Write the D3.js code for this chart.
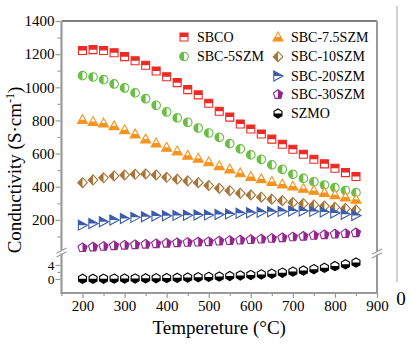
<!DOCTYPE html>
<html><head><meta charset="utf-8">
<script src="https://cdn.jsdelivr.net/npm/d3@7/dist/d3.min.js"></script>
<style>
html,body{margin:0;padding:0;background:#fff;}
svg text{font-family:"Liberation Serif","DejaVu Serif",serif !important;fill:#000;}
</style></head>
<body><svg id="c" width="410" height="350"></svg>
<script>
const temps = [200,225,250,275,300,325,350,375,400,425,450,475,500,525,550,575,600,625,650,675,700,725,750,775,800,825,850];
const sbco   = [1222,1227,1222,1208,1185,1160,1133,1098,1064,1028,986,954,904,855,820,778,748,718,687,656,626,596,566,538,511,485,462];
const sbc5   = [1070,1062,1046,1020,996,966,931,891,851,815,789,754,724,698,660,628,592,565,532,505,475,450,430,410,394,377,364];
const sbc75  = [803,792,782,766,742,716,686,662,636,614,588,570,548,525,505,482,460,446,430,414,402,388,376,363,350,336,322];
const sbc10  = [424,441,454,465,471,475,477,471,457,445,435,424,407,390,376,360,350,337,325,316,304,298,290,283,276,269,260];
const sbc20  = [168,178,188,199,208,215,219,223,225,227,228,229,230,232,236,240,243,246,249,251,253,253,251,247,241,234,226];
const sbc30  = [32,36,40,44,47,50,53,56,59,62,64,66,68,72,75,78,81,84,88,92,97,101,106,110,114,117,122];
const szmo   = [0.05,0.06,0.08,0.1,0.12,0.15,0.18,0.22,0.27,0.33,0.4,0.5,0.6,0.7,0.85,1.0,1.15,1.3,1.5,1.8,2.1,2.4,2.8,3.2,3.7,4.2,4.7];
const seriesNames = ["SBCO","SBC-5SZM","SBC-7.5SZM","SBC-10SZM","SBC-20SZM","SBC-30SZM","SZMO"];
const xTicks = [200,300,400,500,600,700,800,900];
const xMinor = [150,250,350,450,550,650,750,850];
const yTicksUpper = [200,400,600,800,1000,1200,1400];
const yMinorUpper = [100,300,500,700,900,1100,1300];
const yTicksLower = [0,4];
const yMinorLower = [2];

const FONT = "Liberation Serif";
const svg = d3.select("#c");
const L = 61.5, R = 377, T = 21, B = 293, BRK = 252;
const x = d3.scaleLinear().domain([150,900]).range([L,R]);
const yU = d3.scaleLinear().domain([6,1400]).range([BRK,T]);
const yL = d3.scaleLinear().domain([-4,7.7]).range([B,BRK]);
const axisCol = "#9a9a9a";

const defs = svg.append("defs");
const halves = {top:[-10,-10,20,10], bottom:[-10,0,20,10], left:[-10,-10,10,20], right:[0,-10,10,20], tri:[-10,-0.3,20,10]};
Object.entries(halves).forEach(([k,r])=>{
  defs.append("clipPath").attr("id","h-"+k).attr("clipPathUnits","userSpaceOnUse")
    .append("rect").attr("x",r[0]).attr("y",r[1]).attr("width",r[2]).attr("height",r[3]);
});

function poly(n, r, rot){
  const pts=[];
  for(let i=0;i<n;i++){const a=rot+i*2*Math.PI/n; pts.push([r*Math.cos(a), r*Math.sin(a)]);}
  return "M"+pts.map(p=>p[0].toFixed(2)+","+p[1].toFixed(2)).join("L")+"Z";
}
const shapes = {
  square: "M-4,-4L4,-4L4,4L-4,4Z",
  circle: "M-4.3,0A4.3,4.3 0 1,0 4.3,0A4.3,4.3 0 1,0 -4.3,0Z",
  tri: "M0,-5.2L5,3.6L-5,3.6Z",
  diamond: "M0,-5L4.8,0L0,5L-4.8,0Z",
  rtri: "M-4.2,-5L5,0L-4.2,5Z",
  pent: poly(5,4.8,-Math.PI/2),
  hex: poly(6,4.6,-Math.PI/2)
};
const series = [
  {name:seriesNames[0], vals:sbco,  col:"#ee2a24", shape:"square",  half:"top",    sc:yU},
  {name:seriesNames[1], vals:sbc5,  col:"#6cbd45", shape:"circle",  half:"left",   sc:yU},
  {name:seriesNames[2], vals:sbc75, col:"#f7931e", shape:"tri",     half:"tri",    sc:yU},
  {name:seriesNames[3], vals:sbc10, col:"#a8743a", shape:"diamond", half:"left",   sc:yU},
  {name:seriesNames[4], vals:sbc20, col:"#3b5cab", shape:"rtri",    half:"top",    sc:yU},
  {name:seriesNames[5], vals:sbc30, col:"#93278f", shape:"pent",    half:"right",  sc:yU},
  {name:seriesNames[6], vals:szmo,  col:"#000000", shape:"hex",     half:"bottom", sc:yL}
];
function marker(g, s){
  g.append("path").attr("d",shapes[s.shape]).attr("fill","#fff").attr("stroke","none");
  g.append("path").attr("d",shapes[s.shape]).attr("fill",s.col).attr("clip-path","url(#h-"+s.half+")");
  g.append("path").attr("d",shapes[s.shape]).attr("fill","none").attr("stroke",s.col).attr("stroke-width",1.1);
}

svg.append("line").attr("x1",L).attr("x2",R).attr("y1",T).attr("y2",T).attr("stroke","#000").attr("stroke-width",1.2);
svg.append("line").attr("x1",R).attr("x2",R).attr("y1",T).attr("y2",B+1).attr("stroke",axisCol).attr("stroke-width",2);
svg.append("line").attr("x1",L).attr("x2",L).attr("y1",T).attr("y2",B+1).attr("stroke",axisCol).attr("stroke-width",2.2);
svg.append("line").attr("x1",L-1).attr("x2",R+1).attr("y1",B).attr("y2",B).attr("stroke",axisCol).attr("stroke-width",2);

function styleAxis(g, fs){
  g.attr("font-family",FONT);
  g.select(".domain").remove();
  g.selectAll(".tick line").attr("stroke",axisCol).attr("stroke-width",1.2);
  g.selectAll("text").attr("font-size",fs||15).attr("font-family",FONT);
}
const gxa = svg.append("g").attr("transform",`translate(0,${B})`)
  .call(d3.axisBottom(x).tickValues(xTicks).tickSize(5).tickPadding(2).tickFormat(d3.format("d")));
styleAxis(gxa);
gxa.selectAll("text").attr("dy","0.71em");
svg.append("g").attr("transform",`translate(0,${B})`)
  .call(d3.axisBottom(x).tickValues(xMinor).tickSize(3).tickFormat("")).call(styleAxis);

const gyu = svg.append("g").attr("transform",`translate(${L-1},0)`)
  .call(d3.axisLeft(yU).tickValues(yTicksUpper).tickSize(5).tickPadding(1).tickFormat(d3.format("d")));
styleAxis(gyu);
svg.append("g").attr("transform",`translate(${L-1},0)`)
  .call(d3.axisLeft(yU).tickValues(yMinorUpper).tickSize(3).tickFormat("")).call(styleAxis);
const gyl = svg.append("g").attr("transform",`translate(${L-1},0)`)
  .call(d3.axisLeft(yL).tickValues(yTicksLower).tickSize(5).tickPadding(1).tickFormat(d3.format("d")));
styleAxis(gyl, 13.5);
svg.append("g").attr("transform",`translate(${L-1},0)`)
  .call(d3.axisLeft(yL).tickValues(yMinorLower).tickSize(3).tickFormat("")).call(styleAxis);

function brk(cx, cy){
  svg.append("rect").attr("x",cx-2).attr("y",cy-2).attr("width",4).attr("height",3).attr("fill","#fff");
  [-1.8,1.8].forEach(o=>{
    svg.append("line").attr("x1",cx-5).attr("y1",cy+o+2.6).attr("x2",cx+5).attr("y2",cy+o-2.6)
      .attr("stroke",axisCol).attr("stroke-width",1.1);
  });
}
brk(L, 252.5);
brk(R, 253.5);

series.forEach(s=>{
  const g = svg.append("g");
  g.selectAll("g").data(temps.map((t,i)=>[t,s.vals[i]])).join("g")
    .attr("transform",d=>`translate(${x(d[0])},${s.sc(d[1])})`)
    .each(function(){ marker(d3.select(this), s); });
});

const legPos = [[184,37],[184,56.5],[278,37.3],[278,56.7],[278,76],[278,94.5],[278,113.5]];
series.forEach((s,i)=>{
  const [lx,ly] = legPos[i];
  const g = svg.append("g").attr("transform",`translate(${lx},${ly})`);
  marker(g,s);
  svg.append("text").attr("x",lx+13).attr("y",ly).attr("dominant-baseline","central")
    .attr("font-family",FONT).attr("font-size",14).text(s.name);
});

svg.append("text").attr("x",(L+R)/2).attr("y",334).attr("text-anchor","middle").attr("font-size",19)
  .attr("font-family",FONT).text("Tempereture (°C)");
const yt = svg.append("text").attr("transform","translate(21,170) rotate(-90)").attr("text-anchor","middle")
  .attr("font-size",19).attr("font-family",FONT);
yt.append("tspan").text("Conductivity (S·cm");
yt.append("tspan").attr("font-size",12).attr("dy",-7).text("-1");
yt.append("tspan").attr("dy",7).text(")");

svg.append("line").attr("x1",397).attr("x2",397).attr("y1",6).attr("y2",282).attr("stroke","#a0a0a0").attr("stroke-width",1);
svg.append("text").attr("x",401).attr("y",304.5).attr("text-anchor","middle").attr("font-size",19)
  .attr("font-family",FONT).text("0");
</script></body></html>
